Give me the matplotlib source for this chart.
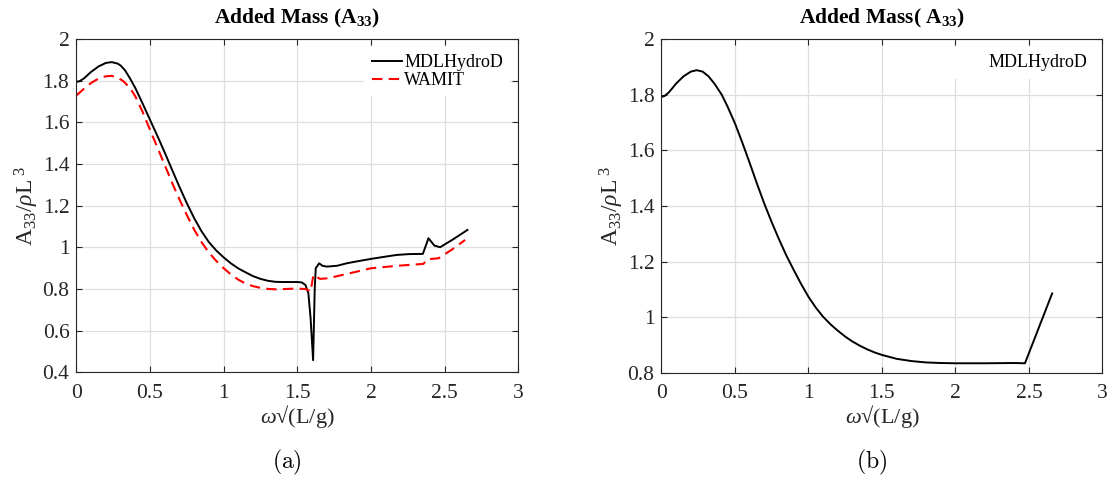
import matplotlib.pyplot as plt

plt.rcParams['font.family'] = ['Liberation Serif', 'DejaVu Serif']
plt.rcParams['mathtext.fontset'] = 'custom'
plt.rcParams['mathtext.rm'] = 'Liberation Serif'
plt.rcParams['mathtext.it'] = 'Liberation Serif:italic'
plt.rcParams['mathtext.bf'] = 'Liberation Serif:bold'

# (a) MDLHydroD
x_mdl_a = [0, 0.02, 0.05, 0.1, 0.15, 0.2, 0.24, 0.28, 0.3, 0.33, 0.365, 0.4, 0.45,
           0.5, 0.55, 0.6, 0.65, 0.7, 0.75, 0.8, 0.85, 0.9, 0.95, 1.0, 1.05, 1.1, 1.15,
           1.2, 1.25, 1.3, 1.35, 1.4, 1.45, 1.5, 1.53, 1.555, 1.575, 1.59, 1.607,
           1.618, 1.625, 1.648, 1.67, 1.70, 1.77, 1.836, 1.92, 2.0, 2.09, 2.175, 2.26, 2.352,
           2.39, 2.43, 2.469, 2.56, 2.655]
y_mdl_a = [1.795, 1.797, 1.81, 1.842, 1.868, 1.885, 1.889, 1.882, 1.873, 1.85, 1.81, 1.765, 1.69,
           1.612, 1.535, 1.455, 1.372, 1.29, 1.212, 1.14, 1.077, 1.025, 0.985, 0.952, 0.923, 0.899, 0.88,
           0.862, 0.849, 0.84, 0.835, 0.834, 0.834, 0.834, 0.832, 0.82, 0.78, 0.66, 0.459,
           0.80, 0.90, 0.924, 0.912, 0.908, 0.912, 0.924, 0.935, 0.945, 0.955, 0.964, 0.968, 0.969,
           1.044, 1.009, 1.001, 1.04, 1.084]

# (a) WAMIT
x_wam_a = [0, 0.05, 0.1, 0.15, 0.2, 0.24, 0.28, 0.32, 0.365, 0.4, 0.45, 0.5, 0.55, 0.6,
           0.65, 0.7, 0.75, 0.8, 0.85, 0.9, 0.95, 1.0, 1.05, 1.1, 1.15, 1.2, 1.25, 1.3,
           1.35, 1.4, 1.5, 1.56, 1.59, 1.609, 1.654, 1.707,
           1.85, 2.0, 2.18, 2.356, 2.38, 2.458, 2.55, 2.639]
y_wam_a = [1.729, 1.76, 1.789, 1.81, 1.821, 1.823, 1.815, 1.797, 1.764, 1.725, 1.65, 1.564, 1.48, 1.395,
           1.31, 1.23, 1.155, 1.085, 1.025, 0.975, 0.935, 0.90, 0.87, 0.845, 0.826, 0.814, 0.806, 0.801,
           0.799, 0.80, 0.803, 0.80, 0.788, 0.868, 0.849, 0.852,
           0.875, 0.90, 0.912, 0.921, 0.943, 0.948, 0.99, 1.036]

# (b) MDLHydroD
x_mdl_b = [0, 0.02, 0.05, 0.1, 0.15, 0.2, 0.24, 0.28, 0.32, 0.36, 0.41, 0.45, 0.5, 0.55, 0.6,
           0.65, 0.7, 0.75, 0.8, 0.85, 0.9, 0.95, 1.0, 1.05, 1.1, 1.15, 1.2, 1.25, 1.3, 1.35,
           1.4, 1.45, 1.5, 1.6, 1.7, 1.8, 1.9, 2.0, 2.2, 2.4, 2.473, 2.658]
y_mdl_b = [1.792, 1.795, 1.808, 1.84, 1.866, 1.883, 1.888, 1.883, 1.866, 1.84, 1.80, 1.757, 1.697, 1.628, 1.555,
           1.48, 1.408, 1.342, 1.28, 1.222, 1.17, 1.12, 1.074, 1.035, 1.002, 0.975, 0.952, 0.931, 0.913, 0.898,
           0.885, 0.874, 0.865, 0.851, 0.843, 0.838, 0.836, 0.835, 0.835, 0.836, 0.835, 1.086]

xticks = [0, 0.5, 1, 1.5, 2, 2.5, 3]
yticks_a = [0.4, 0.6, 0.8, 1, 1.2, 1.4, 1.6, 1.8, 2]
yticks_b = [0.8, 1, 1.2, 1.4, 1.6, 1.8, 2]

dark = '#262626'
fig = plt.figure(figsize=(11.13, 4.83), dpi=100)
ax1 = fig.add_axes([0.0686, 0.2288, 0.3971, 0.6905])
ax2 = fig.add_axes([0.5943, 0.2277, 0.3962, 0.6915])


def style(ax, yticks):
    ax.set_xlim(0, 3)
    ax.set_ylim(yticks[0], yticks[-1])
    ax.set_xticks(xticks)
    ax.set_xticklabels(['0', '0.5', '1', '1.5', '2', '2.5', '3'])
    ax.set_yticks(yticks)
    ax.set_yticklabels([('%g' % v) for v in yticks])
    ax.grid(True, color='#dfdfdf', lw=0.9)
    ax.set_axisbelow(True)
    ax.tick_params(direction='in', length=4, width=0.8, colors=dark, labelsize=15.5,
                   top=True, right=True)
    ax.tick_params(axis='x', pad=8)
    ax.tick_params(axis='y', pad=5)
    for s in ax.spines.values():
        s.set_color(dark)
        s.set_linewidth(0.8)
    ax.set_xlabel('$\\omega$\u221a(L/g)', fontsize=16, color=dark, labelpad=0)
    ax.set_ylabel(r'A$_{33}$/$\rho$L$^{\ 3}$', fontsize=17, color=dark, labelpad=1)


ax1.plot(x_mdl_a, y_mdl_a, color='black', lw=1.4, label='MDLHydroD')
ax1.plot(x_wam_a, y_wam_a, color='red', lw=1.5, ls=(0, (5, 3)), label='WAMIT')
style(ax1, yticks_a)
ax1.set_title(r'Added Mass (A$_\mathbf{33}$)', fontsize=15.5, fontweight='bold', pad=11)
leg = ax1.legend(loc='upper right', fontsize=13, handlelength=1.7, handletextpad=0.1,
                 labelspacing=0.05, borderaxespad=0.45, framealpha=1, edgecolor='none',
                 fancybox=False)

ax2.plot(x_mdl_b, y_mdl_b, color='black', lw=1.4)
style(ax2, yticks_b)
ax2.set_title(r'Added Mass( A$_\mathbf{33}$)', fontsize=15.5, fontweight='bold', pad=11)
h, = ax2.plot([], [], color='white')
ax2.legend([h], ['MDLHydroD'], loc='upper right', fontsize=13, handlelength=1.7,
           handletextpad=0.1, borderaxespad=0.45, framealpha=1, edgecolor='none', fancybox=False)

fig.text(287 / 1113, 1 - 462 / 483, r'$\mathrm{(a)}$', math_fontfamily='cm', fontsize=17,
         ha='center', va='center')
fig.text(872 / 1113, 1 - 462 / 483, r'$\mathrm{(b)}$', math_fontfamily='cm', fontsize=17,
         ha='center', va='center')

fig.savefig('out.png', dpi=100)
